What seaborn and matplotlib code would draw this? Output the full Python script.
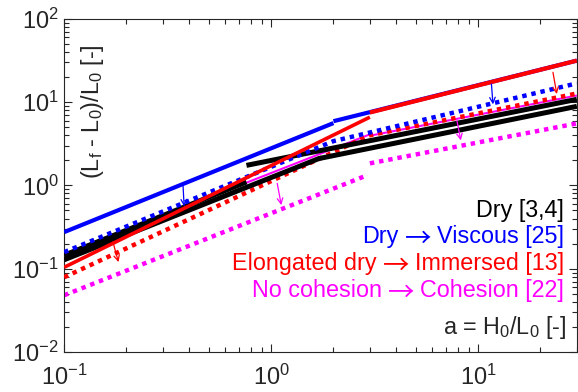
import matplotlib
matplotlib.use("Agg")
import matplotlib.pyplot as plt
import matplotlib.transforms as mtransforms
import seaborn as sns

sns.set_theme(style="ticks")
plt.rcParams["font.family"] = ["Liberation Sans", "DejaVu Sans"]
plt.rcParams["mathtext.default"] = "regular"

# --- Data ---
# Dry [3,4]
dry_x = [0.1, 1.7, 30]
dry_y = [0.128, 2.1, 8.9]
dry_lo_x = [0.1, 0.76]
dry_lo_y = [0.145, 1.1]
dry_hi_x = [0.76, 30]
dry_hi_y = [1.74, 10.8]
# Dry -> Viscous [25]
vdry_x1 = [0.1, 2]
vdry_y1 = [0.275, 5.6]
vdry_x2 = [2, 30]
vdry_y2 = [5.9, 31.5]
visc_x = [0.1, 2, 30]
visc_y = [0.158, 3.4, 16.8]
# Elongated dry -> Immersed [13]
elong_x1 = [0.1, 3]
elong_y1 = [0.104, 6.6]
elong_x2 = [3, 30]
elong_y2 = [7.5, 31.5]
imm_x = [0.1, 3, 30]
imm_y = [0.079, 4.0, 12.7]
# No cohesion -> Cohesion [22]
nocoh_x1 = [0.1, 3]
nocoh_y1 = [0.15, 4.1]
nocoh_x2 = [3, 30]
nocoh_y2 = [3.95, 12.0]
coh_x1 = [0.1, 2.9]
coh_y1 = [0.048, 1.32]
coh_x2 = [3, 30]
coh_y2 = [1.84, 5.55]

# arrows: start (x0, y0) -> tip (x1, y1)
arrow_x0 = [0.375, 11.6, 0.172, 23.0, 1.07, 7.9]
arrow_y0 = [1.03, 16.5, 0.21, 22.8, 1.06, 6.0]
arrow_x1 = [0.38, 11.8, 0.183, 24.0, 1.12, 8.25]
arrow_y1 = [0.56, 9.4, 0.12, 12.5, 0.58, 3.47]
arrow_col = ["blue", "blue", "red", "red", "magenta", "magenta"]

labels = ["Dry [3,4]", "Dry \u2192 Viscous [25]",
          "Elongated dry \u2192 Immersed [13]",
          "No cohesion \u2192 Cohesion [22]"]
label_cols = ["black", "blue", "red", "magenta"]

fig, ax = plt.subplots(figsize=(5.78, 3.92), dpi=100)
fig.subplots_adjust(left=0.111, right=0.998, bottom=0.102, top=0.952)
ax.set_xscale("log")
ax.set_yscale("log")

DOT = (0, (1, 1.1))


def seg(x, y, color, lw, dotted=False, z=2):
    sns.lineplot(x=x, y=y, ax=ax, color=color, lw=lw, sort=False, estimator=None,
                 linestyle=DOT if dotted else "-", zorder=z,
                 solid_capstyle="butt", dash_capstyle="butt")


# magenta (under the black)
seg(nocoh_x1, nocoh_y1, "magenta", 1.5, z=2)
seg(nocoh_x2, nocoh_y2, "magenta", 1.5, z=2)
seg(coh_x1, coh_y1, "magenta", 3.2, dotted=True, z=2)
seg(coh_x2, coh_y2, "magenta", 3.2, dotted=True, z=2)
# red dotted
seg(imm_x, imm_y, "red", 3.2, dotted=True, z=3)
# black
seg(dry_x, dry_y, "black", 3.6, z=4)
seg(dry_lo_x, dry_lo_y, "black", 3.6, z=4)
seg(dry_hi_x, dry_hi_y, "black", 3.6, z=4)
# blue
seg(vdry_x1, vdry_y1, "blue", 3.0, z=5)
seg(vdry_x2, vdry_y2, "blue", 3.0, z=5)
seg(visc_x, visc_y, "blue", 3.2, dotted=True, z=5)
# red solid
seg(elong_x1, elong_y1, "red", 2.6, z=6)
seg(elong_x2, elong_y2, "red", 3.0, z=6)

for x0, y0, x1, y1, c in zip(arrow_x0, arrow_y0, arrow_x1, arrow_y1, arrow_col):
    ax.annotate("", xy=(x1, y1), xytext=(x0, y0),
                arrowprops=dict(arrowstyle="->", color=c, lw=0.9,
                                mutation_scale=10, shrinkA=0, shrinkB=0),
                zorder=7)

ax.set_xlim(0.1, 30)
ax.set_ylim(0.01, 100)

ax.tick_params(which="both", direction="in", top=True, right=True,
               width=0.8, colors="#262626", labelsize=17)
ax.tick_params(which="major", length=6)
ax.tick_params(which="minor", length=3.5)
ax.tick_params(axis="x", which="major", pad=9)
ax.tick_params(axis="y", which="major", pad=4)
for s in ax.spines.values():
    s.set_linewidth(0.8)
    s.set_color("#262626")

ax.set_xlabel("")
ax.set_ylabel("")

# text inside the axes
ax.text(0.055, 0.722, "(L$_f$ - L$_0$)/L$_0$ [-]", transform=ax.transAxes,
        rotation=90, ha="center", va="center", fontsize=16.8, color="#262626")
ax.text(0.981, 0.054, "a = H$_0$/L$_0$ [-]", transform=ax.transAxes,
        ha="right", va="baseline", fontsize=16.8, color="#262626")

# labels: the arrow is set in a CJK font (long, thin arrow like the original)
fig.canvas.draw()
renderer = fig.canvas.get_renderer()
inv = ax.transAxes.inverted()
arrow_trans = ax.transAxes + mtransforms.ScaledTranslation(0, -2.5 / 72, fig.dpi_scale_trans)

label_y = [0.405, 0.326, 0.246, 0.164]
for txt, c, yy in zip(labels, label_cols, label_y):
    parts = txt.split(" \u2192 ")
    right = ax.text(0.975, yy, parts[-1], transform=ax.transAxes, ha="right",
                    va="baseline", fontsize=16.8, color=c)
    if len(parts) == 1:
        continue
    bb = right.get_window_extent(renderer)
    xa = inv.transform((bb.x0 - 6, 0))[0]
    arr = ax.text(xa, yy, "\u2192", transform=arrow_trans, ha="right",
                  va="baseline", fontsize=19, color=c,
                  family=["Noto Sans CJK JP", "DejaVu Sans"])
    bb = arr.get_window_extent(renderer)
    xl = inv.transform((bb.x0 - 6, 0))[0]
    ax.text(xl, yy, parts[0], transform=ax.transAxes, ha="right",
            va="baseline", fontsize=16.8, color=c)

fig.savefig("out.png", dpi=100)
